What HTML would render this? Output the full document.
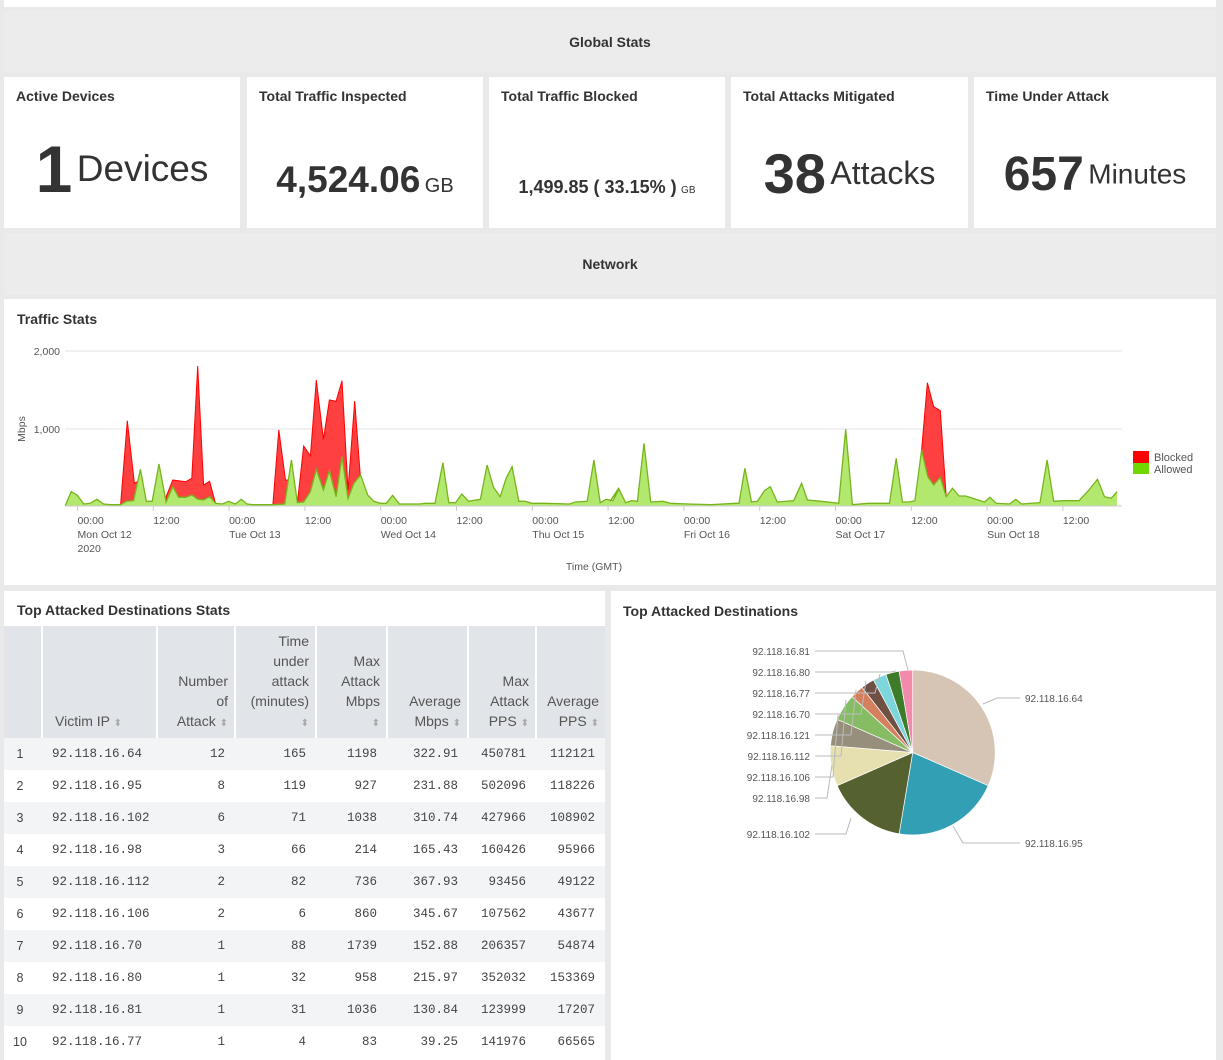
<!DOCTYPE html>
<html><head><meta charset="utf-8">
<style>
*{margin:0;padding:0;box-sizing:border-box}
body{width:1223px;height:1060px;background:#e9e9e9;font-family:"Liberation Sans",sans-serif;color:#333;position:relative;overflow:hidden}
.abs{position:absolute}
.white{background:#fff}
.band{background:#ececec;text-align:center;font-weight:bold;font-size:14px;color:#333}
.card{background:#fff}
.card .t{position:absolute;left:12px;top:11px;font-weight:bold;font-size:14px}
.card .v{position:absolute;left:0;right:0;text-align:center;color:#333;white-space:nowrap}
table{border-collapse:collapse;position:absolute;left:4px;top:626px;width:601px;font-size:14px;table-layout:fixed}
th{background:#e1e4e8;font-weight:normal;color:#555;text-align:right;vertical-align:bottom;padding:0 6px 4px 4px;line-height:20px;border-left:2px solid #fff;height:112px}
th:first-child{border-left:none}
td{height:32px;font-family:"Liberation Mono",monospace;font-size:12.5px;text-align:right;padding:0 10px 0 4px;color:#444}
tr:nth-child(even) td{background:#f3f4f5}
td:nth-child(2){text-align:left;padding-left:10px}
td:first-child{text-align:center;font-family:"Liberation Sans",sans-serif}
.s{color:#aaa;font-size:10px}
</style></head><body>
<div class="abs white" style="left:4px;top:0;width:1212px;height:7px"></div>
<div class="abs band" style="left:4px;top:10px;width:1212px;height:62px;line-height:64px">Global Stats</div>

<div class="abs card" style="left:4px;top:77px;width:236px;height:151px"><div class="t">Active Devices</div>
<div class="v" style="top:54px"><span style="font-size:66px;font-weight:bold;vertical-align:middle">1</span> <span style="font-size:37px;vertical-align:middle">Devices</span></div></div>
<div class="abs card" style="left:247px;top:77px;width:236px;height:151px"><div class="t">Total Traffic Inspected</div>
<div class="v" style="top:82px"><span style="font-size:37px;font-weight:bold">4,524.06</span> <span style="font-size:20px">GB</span></div></div>
<div class="abs card" style="left:489px;top:77px;width:236px;height:151px"><div class="t">Total Traffic Blocked</div>
<div class="v" style="top:100px"><span style="font-size:18px;font-weight:bold">1,499.85 ( 33.15% )</span> <span style="font-size:10px">GB</span></div></div>
<div class="abs card" style="left:731px;top:77px;width:237px;height:151px"><div class="t">Total Attacks Mitigated</div>
<div class="v" style="top:64px"><span style="font-size:56px;font-weight:bold;vertical-align:middle">38</span> <span style="font-size:32px;vertical-align:middle">Attacks</span></div></div>
<div class="abs card" style="left:974px;top:77px;width:242px;height:151px"><div class="t">Time Under Attack</div>
<div class="v" style="top:70px"><span style="font-size:48px;font-weight:bold;vertical-align:middle">657</span> <span style="font-size:28px;vertical-align:middle">Minutes</span></div></div>

<div class="abs band" style="left:4px;top:233px;width:1212px;height:62px;line-height:62px">Network</div>

<div class="abs white" style="left:4px;top:299px;width:1212px;height:286px"></div>
<div class="abs" style="left:17px;top:311px;font-weight:bold;font-size:14px">Traffic Stats</div>
<svg class="abs" style="left:0;top:0" width="1223" height="600" id="chart">
<g font-family="Liberation Sans" font-size="10.5" fill="#555">
<line x1="65" y1="351" x2="1122" y2="351" stroke="#e3e3e3"/>
<line x1="65" y1="429" x2="1122" y2="429" stroke="#e3e3e3"/>
<text x="60" y="355" text-anchor="end">2,000</text>
<text x="60" y="433" text-anchor="end">1,000</text>
<text transform="translate(25,429) rotate(-90)" text-anchor="middle">Mbps</text>
<g id="redg"></g><g id="greeng"></g>
<line x1="65" y1="506" x2="1122" y2="506" stroke="#ccc"/>
<g id="ticks"></g>
<text x="594" y="570" text-anchor="middle">Time (GMT)</text>
<rect x="1133" y="451" width="16" height="12" fill="#f00"/>
<rect x="1133" y="463" width="16" height="11" fill="#70d800"/>
<text x="1154" y="461" font-size="11">Blocked</text>
<text x="1154" y="473" font-size="11">Allowed</text>
</g>
</svg>

<div class="abs white" style="left:4px;top:591px;width:601px;height:469px"></div>
<div class="abs" style="left:17px;top:602px;font-weight:bold;font-size:14px">Top Attacked Destinations Stats</div>
<table>
<colgroup><col style="width:38px"><col style="width:115px"><col style="width:78px"><col style="width:81px"><col style="width:71px"><col style="width:81px"><col style="width:68px"><col style="width:69px"></colgroup>
<tr><th></th><th style="text-align:left;padding-left:12px">Victim IP <span class="s">&#x2B0D;</span></th><th>Number<br>of<br>Attack <span class="s">&#x2B0D;</span></th><th>Time<br>under<br>attack<br>(minutes)<br><span class="s">&#x2B0D;</span></th><th>Max<br>Attack<br>Mbps<br><span class="s">&#x2B0D;</span></th><th>Average<br>Mbps <span class="s">&#x2B0D;</span></th><th>Max<br>Attack<br>PPS <span class="s">&#x2B0D;</span></th><th>Average<br>PPS <span class="s">&#x2B0D;</span></th></tr>
<tr><td>1</td><td>92.118.16.64</td><td>12</td><td>165</td><td>1198</td><td>322.91</td><td>450781</td><td>112121</td></tr>
<tr><td>2</td><td>92.118.16.95</td><td>8</td><td>119</td><td>927</td><td>231.88</td><td>502096</td><td>118226</td></tr>
<tr><td>3</td><td>92.118.16.102</td><td>6</td><td>71</td><td>1038</td><td>310.74</td><td>427966</td><td>108902</td></tr>
<tr><td>4</td><td>92.118.16.98</td><td>3</td><td>66</td><td>214</td><td>165.43</td><td>160426</td><td>95966</td></tr>
<tr><td>5</td><td>92.118.16.112</td><td>2</td><td>82</td><td>736</td><td>367.93</td><td>93456</td><td>49122</td></tr>
<tr><td>6</td><td>92.118.16.106</td><td>2</td><td>6</td><td>860</td><td>345.67</td><td>107562</td><td>43677</td></tr>
<tr><td>7</td><td>92.118.16.70</td><td>1</td><td>88</td><td>1739</td><td>152.88</td><td>206357</td><td>54874</td></tr>
<tr><td>8</td><td>92.118.16.80</td><td>1</td><td>32</td><td>958</td><td>215.97</td><td>352032</td><td>153369</td></tr>
<tr><td>9</td><td>92.118.16.81</td><td>1</td><td>31</td><td>1036</td><td>130.84</td><td>123999</td><td>17207</td></tr>
<tr><td>10</td><td>92.118.16.77</td><td>1</td><td>4</td><td>83</td><td>39.25</td><td>141976</td><td>66565</td></tr>
</table>

<div class="abs white" style="left:611px;top:591px;width:605px;height:469px"></div>
<div class="abs" style="left:623px;top:603px;font-weight:bold;font-size:14px">Top Attacked Destinations</div>
<svg class="abs" style="left:0;top:0" width="1223" height="1060" id="pie"></svg>

<script>
var NS="http://www.w3.org/2000/svg";
function el(p,t,a){var e=document.createElementNS(NS,t);for(var k in a)e.setAttribute(k,a[k]);p.appendChild(e);return e;}
function t1(p){return [p[0]/2.529,340+p[1]/3];}
function t2(p){return [610+p[0]/2.558,340+p[1]/3];}
var g1=[[165,497],[180,455],[195,465],[212,492],[228,490],[245,478],[262,492],[280,494],[305,494],[320,484],[338,482],[355,388],[370,484],[385,484],[402,372],[420,486],[437,440],[452,472],[470,472],[485,465],[500,478],[515,480],[530,470],[545,490],[562,492],[578,484],[595,492],[610,478],[625,492],[640,494],[690,494],[720,492],[737,360],[752,488],[768,486],[785,455],[800,388],[818,450],[833,392],[850,470],[865,350],[880,476],[895,430],[912,405],[930,465],[945,484],[962,490],[977,490],[993,466],[1010,492],[1060,492],[1075,490],[1100,490],[1120,368],[1135,488],[1152,488],[1168,462],[1185,484],[1215,478],[1232,375],[1248,442],[1265,470],[1280,415],[1295,380],[1312,484],[1328,484],[1345,490],[1380,490],[1440,492],[1455,486],[1485,484],[1502,360],[1518,488],[1533,478],[1550,482],[1566,446]];
var g2=[[0,484],[22,445],[40,488],[55,482],[70,484],[87,310],[104,486],[135,484],[155,490],[200,492],[260,494],[320,490],[330,490],[345,385],[362,486],[377,484],[395,452],[410,440],[428,486],[470,482],[490,430],[505,480],[540,484],[585,490],[603,268],[620,494],[660,490],[700,490],[715,490],[732,355],[748,486],[765,486],[780,482],[797,330],[813,410],[828,435],[845,412],[860,470],[876,445],[893,468],[910,468],[958,486],[972,472],[988,490],[1022,492],[1038,478],[1053,492],[1100,488],[1118,360],[1135,484],[1160,482],[1200,482],[1225,450],[1247,418],[1265,470],[1282,475],[1297,455]];
var G=g1.map(t1).concat(g2.map(t2));
var reds=[[[305,497],[305,494],[322,242],[340,430],[355,420],[355,497]],
[[420,497],[420,470],[437,420],[452,422],[470,425],[485,415],[500,78],[515,435],[530,424],[545,490],[545,497]],
[[690,497],[705,270],[722,420],[737,420],[752,488],[768,318],[785,348],[800,120],[818,298],[833,180],[850,184],[865,122],[880,450],[897,183],[912,420],[912,497]]].map(function(r){return r.map(t1);});
reds.push([[780,497],[797,330],[812,128],[828,200],[845,212],[860,470],[860,497]].map(t2));
function pts(a){return a.map(function(p){return p[0].toFixed(1)+","+p[1].toFixed(1);}).join(" ");}
var rg=document.getElementById("redg");
reds.forEach(function(r){el(rg,"polygon",{points:pts(r),fill:"#ff4040",stroke:"#f00","stroke-width":1});});
var gg=document.getElementById("greeng");
var poly=[[G[0][0],506]].concat(G).concat([[G[G.length-1][0],506]]);
el(gg,"polygon",{points:pts(poly),fill:"#b3e86e"});
el(gg,"polyline",{points:pts(G),fill:"none",stroke:"#78b51c","stroke-width":1.3});
var tk=document.getElementById("ticks");
var days=["Mon Oct 12","Tue Oct 13","Wed Oct 14","Thu Oct 15","Fri Oct 16","Sat Oct 17","Sun Oct 18"];
for(var i=0;i<14;i++){var x=77.5+i*75.8;el(tk,"line",{x1:x,y1:506,x2:x,y2:511,stroke:"#ccc"});
var t=el(tk,"text",{x:x,y:524});t.textContent=i%2?"12:00":"00:00";
if(i%2==0){var d=el(tk,"text",{x:x,y:538});d.textContent=days[i/2];}}
var yy=el(tk,"text",{x:77.5,y:552});yy.textContent="2020";
var pie=document.getElementById("pie");
var cx=912.7,cy=752.5,R=82.5;
var cols=["#d6c4b4","#339fb4","#566130","#e6e0b0","#968f7c","#86bd64","#d47f5e","#6e5044","#7cd6dc","#3f7c2a","#f28aac"];
var w=[12,8,6,3,2,2,1,1,1,1,1],a=0;
function P(ang,r){return [cx+r*Math.sin(ang),cy-r*Math.cos(ang)];}
w.forEach(function(v,i){var a2=a+v/38*2*Math.PI;var p1=P(a,R),p2=P(a2,R);
el(pie,"path",{d:"M"+cx+","+cy+"L"+p1[0]+","+p1[1]+"A"+R+","+R+" 0 "+((a2-a)>Math.PI?1:0)+" 1 "+p2[0]+","+p2[1]+"Z",fill:cols[i],stroke:"#fff","stroke-width":0.7});a=a2;});
var L=[["92.118.16.81",651,908,670],["92.118.16.80",672,896,671],["92.118.16.77",693,880,674],["92.118.16.70",714,866,681],["92.118.16.121",735,856,690],["92.118.16.112",756,846,700],["92.118.16.106",777,838,715],["92.118.16.98",798,832,765],["92.118.16.102",834,851,818]];
L.forEach(function(l){var t=el(pie,"text",{x:810,y:l[1]+4,"text-anchor":"end","font-family":"Liberation Sans","font-size":10,fill:"#555"});t.textContent=l[0];
el(pie,"polyline",{points:"815,"+l[1]+" "+(l[2]-5)+","+l[1]+" "+l[2]+","+l[3],fill:"none",stroke:"#bbb"});});
el(pie,"polyline",{points:"983,704 997,698 1020,698",fill:"none",stroke:"#bbb"});
el(pie,"polyline",{points:"953,826 963,843 1020,843",fill:"none",stroke:"#bbb"});
var r1=el(pie,"text",{x:1025,y:702,"font-family":"Liberation Sans","font-size":10,fill:"#555"});r1.textContent="92.118.16.64";
var r2=el(pie,"text",{x:1025,y:847,"font-family":"Liberation Sans","font-size":10,fill:"#555"});r2.textContent="92.118.16.95";
</script>
</body></html>
